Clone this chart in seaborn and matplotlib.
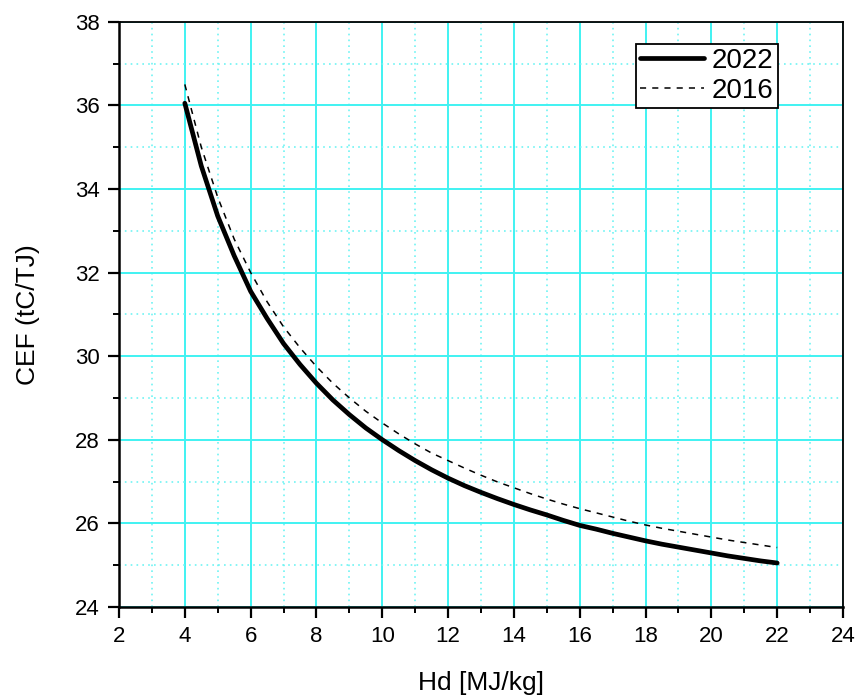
import numpy as np
import pandas as pd
import matplotlib
matplotlib.use("Agg")
import matplotlib.pyplot as plt
import seaborn as sns
from matplotlib.ticker import MultipleLocator
from matplotlib.lines import Line2D

hd = [4, 4.5, 5, 5.5, 6, 6.5, 7, 7.5, 8, 8.5, 9, 9.5, 10, 10.5, 11, 11.5, 12, 12.5, 13, 13.5,
      14, 14.5, 15, 15.5, 16, 16.5, 17, 17.5, 18, 18.5, 19, 19.5, 20, 20.5, 21, 21.5, 22]
cef_2022 = [36.05, 34.55, 33.35, 32.4, 31.55, 30.9, 30.3, 29.8, 29.35, 28.95, 28.6, 28.28,
            28.0, 27.74, 27.5, 27.28, 27.08, 26.9, 26.74, 26.59, 26.45, 26.32, 26.2, 26.07,
            25.95, 25.86, 25.76, 25.67, 25.58, 25.5, 25.43, 25.36, 25.29, 25.22, 25.16,
            25.1, 25.05]
cef_2016 = [36.5, 35.0, 33.8, 32.8, 32.0, 31.3, 30.7, 30.2, 29.75, 29.35, 29.0, 28.68,
            28.4, 28.14, 27.9, 27.68, 27.5, 27.32, 27.15, 26.99, 26.85, 26.71, 26.58, 26.46,
            26.35, 26.25, 26.15, 26.05, 25.96, 25.88, 25.81, 25.74, 25.67, 25.6, 25.54,
            25.48, 25.42]
series = ["2022", "2016"]

sns.set_theme(style="white")
plt.rcParams['font.family'] = ['Liberation Sans', 'DejaVu Sans']
plt.rcParams['text.color'] = 'black'
plt.rcParams['axes.labelcolor'] = 'black'

df = pd.DataFrame({
    "Hd": hd * 2,
    "CEF": cef_2022 + cef_2016,
    "series": [series[0]] * len(hd) + [series[1]] * len(hd),
})

fig = plt.figure(figsize=(8.58, 7.0), dpi=100)
ax = fig.add_axes([0.1387, 0.133, 0.8438, 0.836])

ax.set_xlim(2, 24)
ax.set_ylim(24, 38)
ax.xaxis.set_major_locator(MultipleLocator(2))
ax.xaxis.set_minor_locator(MultipleLocator(1))
ax.yaxis.set_major_locator(MultipleLocator(2))
ax.yaxis.set_minor_locator(MultipleLocator(1))
ax.grid(True, which="major", color="#40f2f2", linewidth=1.4, linestyle="-")
ax.grid(True, which="minor", color="#70f4f4", linewidth=1.2, linestyle=(0, (1, 2.5)))
ax.set_axisbelow(True)

sns.lineplot(data=df, x="Hd", y="CEF", hue="series", style="series",
             palette={"2022": "black", "2016": "black"},
             dashes={"2022": "", "2016": (4, 4)},
             ax=ax, legend=False, sort=True)
lines = ax.get_lines()
for ln in lines:
    ln.set_zorder(3)
    ln.set_solid_joinstyle("round")
lines[0].set_linewidth(3.4)
lines[1].set_linewidth(1.1)

for s in ["left", "bottom"]:
    ax.spines[s].set_linewidth(1.8)
for s in ["top", "right"]:
    ax.spines[s].set_linewidth(1.3)
for s in ax.spines.values():
    s.set_color("black")

ax.tick_params(which="major", direction="out", length=8, width=1.6, colors="black",
               labelsize=16, bottom=True, left=True, pad=6)
ax.tick_params(which="minor", direction="out", length=4, width=1.4, colors="black",
               bottom=True, left=True)

ax.set_xlabel("Hd [MJ/kg]", fontsize=19, labelpad=17, color="black")
ax.set_ylabel("CEF (tC/TJ)", fontsize=19, labelpad=25, color="black")

handles = [Line2D([0], [0], color="black", lw=3.4),
           Line2D([0], [0], color="black", lw=1.1, dashes=(4, 4))]
leg = ax.legend(handles, series, loc="upper right", bbox_to_anchor=(0.91, 0.9625),
                fontsize=20, frameon=True, fancybox=False, framealpha=1,
                edgecolor="black", handlelength=2.3, handletextpad=0.3,
                borderpad=0.15, labelspacing=0.15, borderaxespad=0)
leg.get_frame().set_linewidth(1.3)
for t in leg.get_texts():
    t.set_color("black")

fig.savefig("out.png", dpi=100)
